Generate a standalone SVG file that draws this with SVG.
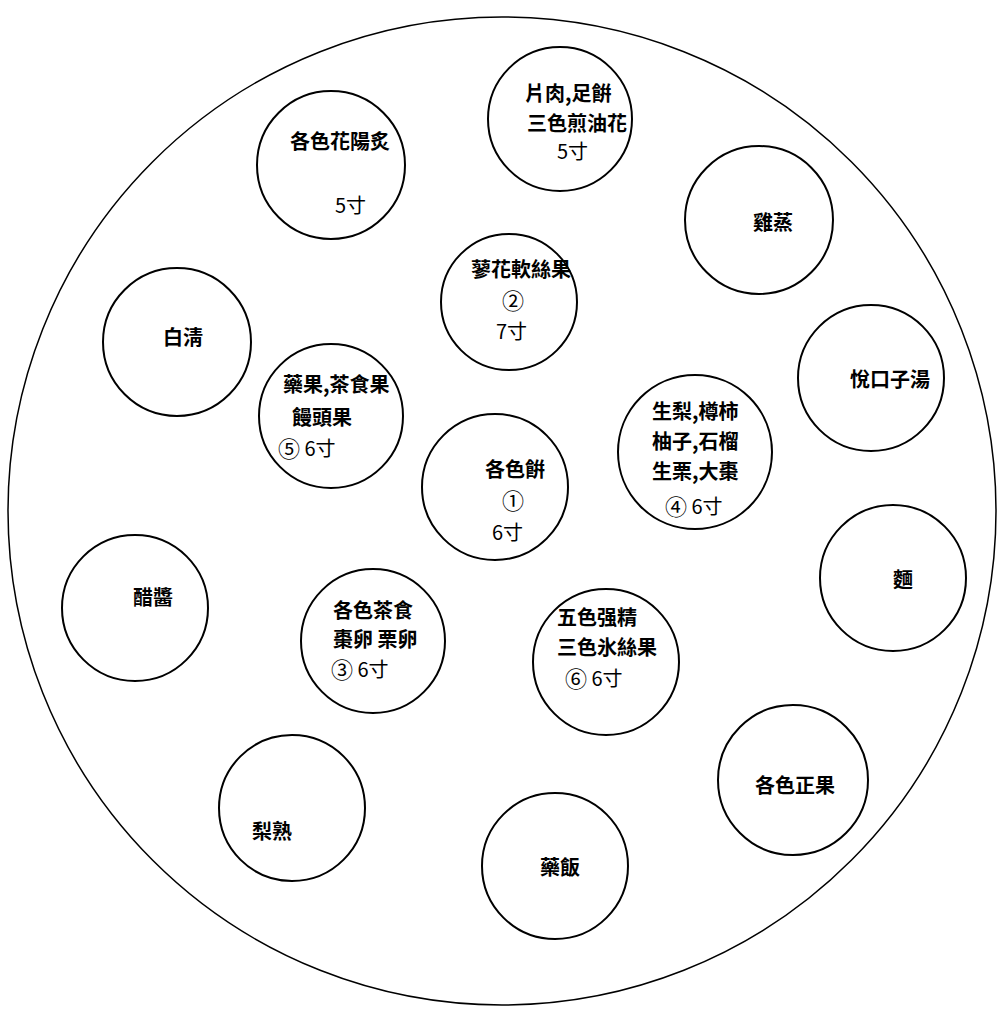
<svg xmlns="http://www.w3.org/2000/svg" width="1006" height="1011" viewBox="0 0 1006 1011">
<style>
.c{fill:none;stroke:#000;stroke-width:2}
.o{fill:none;stroke:#000;stroke-width:1.5}
text{font-family:"Noto Sans CJK TC","Noto Sans CJK SC",sans-serif;font-size:20px;font-weight:bold;fill:#000;dominant-baseline:central}
.n{font-weight:normal}
.k{font-size:22px}
</style>
<rect width="1006" height="1011" fill="#fff"/>
<circle class="o" cx="502" cy="511" r="494"/>
<g id="n1"><circle class="c" cx="560" cy="119" r="72"/><text x="525" y="92">片肉,足餠</text><text x="527" y="122">三色煎油花</text><text x="557" y="150" class="n">5寸</text></g>
<g id="n2"><circle class="c" cx="331" cy="165" r="74"/><text x="290" y="140">各色花陽炙</text><text x="335" y="204" class="n">5寸</text></g>
<g id="n3"><circle class="c" cx="759" cy="220" r="74"/><text x="753" y="221">雞蒸</text></g>
<g id="n4"><circle class="c" cx="509" cy="302" r="68"/><text x="471" y="268">蓼花軟絲果</text><text x="513" y="299" text-anchor="middle" class="n k">②</text><text x="496" y="330" class="n">7寸</text></g>
<g id="n5"><circle class="c" cx="177" cy="342" r="74"/><text x="163" y="336">白淸</text></g>
<g id="n6"><circle class="c" cx="871" cy="378" r="73"/><text x="850" y="378">悅口子湯</text></g>
<g id="n7"><circle class="c" cx="331" cy="416" r="72"/><text x="283" y="383">藥果,茶食果</text><text x="292" y="416">饅頭果</text><text x="278" y="447" class="n"><tspan class="k">⑤</tspan> 6寸</text></g>
<g id="n8"><circle class="c" cx="695" cy="452" r="77"/><text x="652" y="410">生梨,樽柿</text><text x="652" y="440">柚子,石榴</text><text x="652" y="470">生栗,大棗</text><text x="665" y="505" class="n"><tspan class="k">④</tspan>  6寸</text></g>
<g id="n9"><circle class="c" cx="495" cy="487" r="73"/><text x="485" y="468">各色餠</text><text x="513" y="499" text-anchor="middle" class="n k">①</text><text x="492" y="531" class="n">6寸</text></g>
<g id="n10"><circle class="c" cx="135" cy="608" r="73"/><text x="133" y="596">醋醬</text></g>
<g id="n11"><circle class="c" cx="893" cy="578" r="73"/><text x="893" y="578">麵</text></g>
<g id="n12"><circle class="c" cx="373" cy="641" r="72"/><text x="333" y="609">各色茶食</text><text x="333" y="638">棗卵 栗卵</text><text x="331" y="668" class="n"><tspan class="k">③</tspan>  6寸</text></g>
<g id="n13"><circle class="c" cx="606" cy="662" r="73"/><text x="557" y="616">五色强精</text><text x="557" y="646">三色氷絲果</text><text x="565" y="677" class="n"><tspan class="k">⑥</tspan>  6寸</text></g>
<g id="n14"><circle class="c" cx="793" cy="780" r="75"/><text x="755" y="784">各色正果</text></g>
<g id="n15"><circle class="c" cx="292" cy="808" r="73"/><text x="252" y="830">梨熟</text></g>
<g id="n16"><circle class="c" cx="555" cy="866" r="73"/><text x="540" y="866">藥飯</text></g>
<g id="connectors"></g>
</svg>
